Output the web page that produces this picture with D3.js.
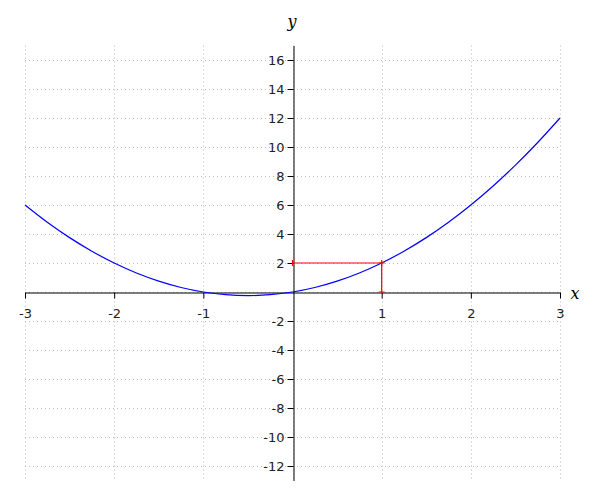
<!DOCTYPE html>
<html><head><meta charset="utf-8">
<script src="https://cdn.jsdelivr.net/npm/d3@7"></script>
<style>body{margin:0;background:#fff}svg{display:block}</style>
</head><body><svg id="c" width="600" height="500"></svg>
<script>
const curveX = [-3,-2.75,-2.5,-2.25,-2,-1.75,-1.5,-1.25,-1,-0.75,-0.5,-0.25,0,0.25,0.5,0.75,1,1.25,1.5,1.75,2,2.25,2.5,2.75,3];
const curveY = [6,4.8125,3.75,2.8125,2,1.3125,0.75,0.3125,0,-0.1875,-0.25,-0.1875,0,0.3125,0.75,1.3125,2,2.8125,3.75,4.8125,6,7.3125,8.75,10.3125,12];
const xTicks = [-3,-2,-1,1,2,3];
const yTicks = [-12,-10,-8,-6,-4,-2,2,4,6,8,10,12,14,16];
const gridX = [-3,-2,-1,0,1,2,3];
const gridY = [-12,-10,-8,-6,-4,-2,0,2,4,6,8,10,12,14,16];
const markX = [0,1,1];
const markY = [2,2,0];

const svg = d3.select('#c');
const x = d3.scaleLinear().domain([-3,3]).range([25,560]);
const y = d3.scaleLinear().domain([-13,17]).range([480.5,45.5]);
const font = 'DejaVu Sans, sans-serif';
const fmt = d => String(d);

// grid
const g = svg.append('g').attr('stroke','#bbb').attr('stroke-width',1).attr('stroke-dasharray','1,3');
g.selectAll('.gx').data(gridX).enter().append('line')
  .attr('x1',d=>Math.round(x(d))+0.5).attr('x2',d=>Math.round(x(d))+0.5)
  .attr('y1',y(17)).attr('y2',y(-13));
g.selectAll('.gy').data(gridY).enter().append('line')
  .attr('y1',d=>Math.round(y(d))+0.5).attr('y2',d=>Math.round(y(d))+0.5)
  .attr('x1',x(-3)).attr('x2',x(3));

// axes
const x0 = Math.round(x(0))+0.5, y0 = Math.round(y(0))+0.5;
const xAxis = d3.axisBottom(x).tickValues(xTicks).tickFormat(fmt).tickSize(6).tickPadding(10).tickSizeOuter(0);
const xa = svg.append('g').attr('transform',`translate(0,${y0})`).call(xAxis);
xa.select('.domain').attr('stroke','#000');
xa.selectAll('.tick line').attr('stroke','#000');
xa.selectAll('text').attr('font-family',font).attr('font-size',13).attr('fill','#222');
const yAxis = d3.axisLeft(y).tickValues(yTicks).tickFormat(fmt).tickSize(6).tickPadding(3).tickSizeOuter(0);
const ya = svg.append('g').attr('transform',`translate(${x0},0)`).call(yAxis);
ya.select('.domain').attr('stroke','#000');
ya.selectAll('.tick line').attr('stroke','#000');
ya.selectAll('text').attr('font-family',font).attr('font-size',13).attr('fill','#222');

// curve
const line = d3.line().x((d,i)=>x(curveX[i])).y((d,i)=>y(curveY[i])).curve(d3.curveCatmullRom);
svg.append('path').datum(curveX).attr('d',line).attr('fill','none').attr('stroke','#0000ff').attr('stroke-width',1.2);

// red marker lines with perpendicular end ticks
const rl = d3.line().x((d,i)=>x(markX[i])).y((d,i)=>y(markY[i]));
svg.append('path').datum(markX).attr('d',rl).attr('fill','none').attr('stroke','#ff0000').attr('stroke-width',1.2);
const segs = [[0,1],[1,2]];
svg.selectAll('.rt').data(segs).enter().append('path')
  .attr('d',s=>{
    const ax=x(markX[s[0]]), ay=y(markY[s[0]]), bx=x(markX[s[1]]), by=y(markY[s[1]]);
    if (Math.abs(ay-by)<0.5) return `M${ax},${ay-3}V${ay+3}M${bx},${by-3}V${by+3}`;
    return `M${ax-3},${ay}H${ax+3}M${bx-3},${by}H${bx+3}`;
  })
  .attr('stroke','#ff0000').attr('stroke-width',1.2).attr('fill','none');

// labels
svg.append('text').attr('x',575).attr('y',299).attr('text-anchor','middle')
  .attr('font-family','DejaVu Serif, serif').attr('font-style','italic').attr('font-size',16).text('x');
svg.append('text').attr('x',292).attr('y',27).attr('text-anchor','middle')
  .attr('font-family','DejaVu Serif, serif').attr('font-style','italic').attr('font-size',16).text('y');
</script></body></html>
